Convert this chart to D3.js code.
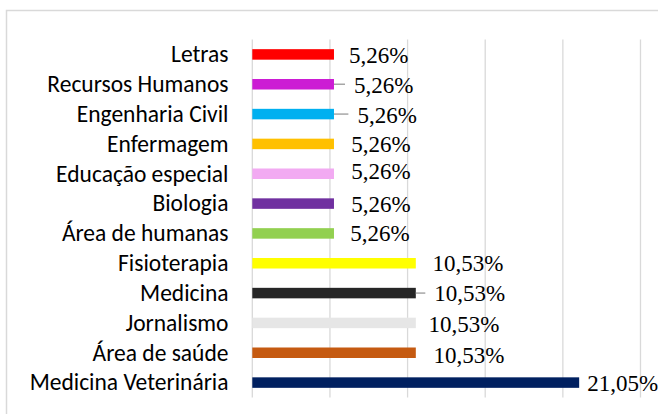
<!DOCTYPE html>
<html>
<head>
<meta charset="utf-8">
<script src="https://cdn.jsdelivr.net/npm/d3@7"></script>
<style>
  body { margin: 0; background: #fff; }
</style>
</head>
<body>
<script>
const categories = ["Letras", "Recursos Humanos", "Engenharia Civil", "Enfermagem",
  "Educação especial", "Biologia", "Área de humanas", "Fisioterapia", "Medicina",
  "Jornalismo", "Área de saúde", "Medicina Veterinária"];
const percents = [5.26, 5.26, 5.26, 5.26, 5.26, 5.26, 5.26, 10.53, 10.53, 10.53, 10.53, 21.05];
const barColors = ["#ff0000", "#cc1cd4", "#00b0f0", "#ffc000", "#f2aaf2", "#7030a0",
  "#92d050", "#ffff00", "#262626", "#e6e6e6", "#c55a11", "#002060"];
const xTicks = [0, 5, 10, 15, 20, 25];

// labels were dragged around by hand in the original, so keep their nudges
const labelShift = [[15, 8.3], [20, 8.7], [23.4, 9], [17.2, 8.5], [17.2, 5], [17.2, 8],
  [16.2, 8], [16.8, 7.3], [18.5, 8.3], [12.8, 9.5], [17.8, 10], [8, 8.5]];
const hasLeader = [false, true, true, false, false, false, false, false, true, false, false, false];

const width = 658,
    height = 414;

const svg = d3.select("body").append("svg")
    .attr("width", width)
    .attr("height", height);

// chart border (runs off the right and bottom edge)
svg.append("rect")
    .attr("x", 6.5)
    .attr("y", 10.5)
    .attr("width", 700)
    .attr("height", 450)
    .attr("fill", "none")
    .attr("stroke", "#d9d9d9")
    .attr("stroke-width", 1.5);

const x = d3.scaleLinear()
    .domain([0, 25])
    .range([252.3, 640.5]);

const y = d3.scaleBand()
    .domain(categories)
    .range([39.5, 397.5])
    .paddingInner(0.648)
    .paddingOuter(0.324);

// vertical gridlines
svg.append("g")
    .selectAll("line")
    .data(xTicks)
    .enter().append("line")
    .attr("x1", d => x(d))
    .attr("x2", d => x(d))
    .attr("y1", 39.5)
    .attr("y2", 397.5)
    .attr("stroke", "#d9d9d9")
    .attr("stroke-width", 1.3);

// bars
svg.append("g")
    .selectAll("rect")
    .data(categories)
    .enter().append("rect")
    .attr("x", x(0))
    .attr("y", d => y(d))
    .attr("width", (d, i) => x(percents[i]) - x(0))
    .attr("height", y.bandwidth())
    .attr("fill", (d, i) => barColors[i]);

// category axis
const yAxis = svg.append("g")
    .attr("transform", `translate(${x(0)},0)`)
    .call(d3.axisLeft(y).tickSize(0).tickPadding(23.8))
    .attr("font-family", "Carlito, Calibri, Lato, sans-serif")
    .attr("font-size", 23.5);
yAxis.select(".domain").remove();
yAxis.selectAll("text")
    .attr("fill", "#000")
    .attr("dy", "0.33em");

const fmt = v => v.toFixed(2).replace(".", ",") + "%";
const mid = d => y(d) + y.bandwidth() / 2;

// leader lines
svg.append("g")
    .selectAll("line")
    .data(categories.filter((d, i) => hasLeader[i]))
    .enter().append("line")
    .attr("x1", d => x(percents[categories.indexOf(d)]))
    .attr("x2", d => {
        const i = categories.indexOf(d);
        return x(percents[i]) + labelShift[i][0] - 9;
    })
    .attr("y1", mid)
    .attr("y2", mid)
    .attr("stroke", "#a6a6a6")
    .attr("stroke-width", 1.5);

// value labels
svg.append("g")
    .attr("font-family", "Liberation Serif, Times New Roman, Tinos")
    .attr("font-size", 23)
    .attr("fill", "#000")
    .selectAll("text")
    .data(categories)
    .enter().append("text")
    .attr("x", (d, i) => x(percents[i]) + labelShift[i][0])
    .attr("y", (d, i) => mid(d) + labelShift[i][1])
    .text((d, i) => fmt(percents[i]));
</script>
</body>
</html>
